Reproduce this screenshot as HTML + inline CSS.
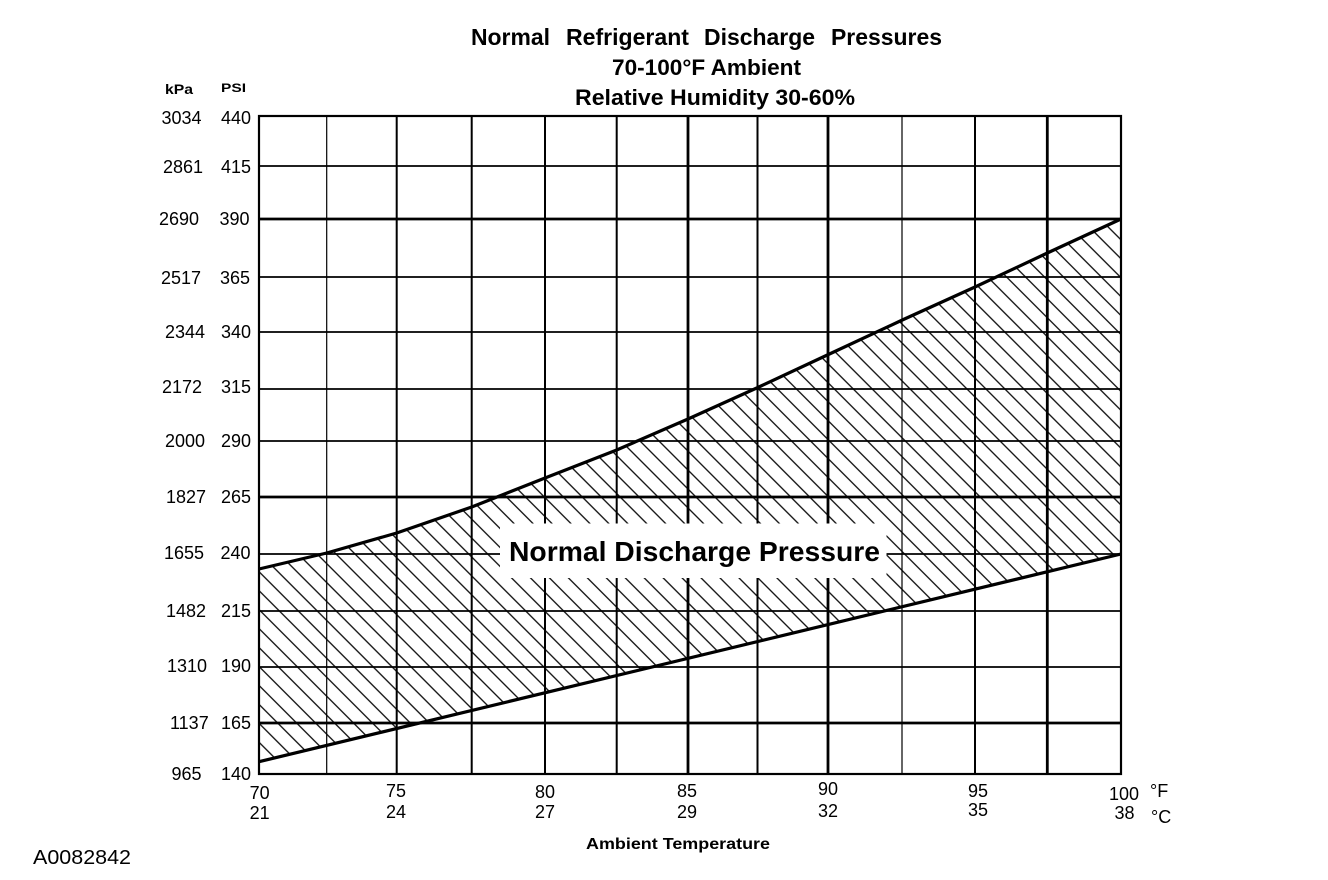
<!DOCTYPE html>
<html>
<head>
<meta charset="utf-8">
<style>
  html, body { margin: 0; padding: 0; background: #fff; }
  svg { display: block; }
  text { font-family: "Liberation Sans", Arial, sans-serif; fill: #000; }
  .b { font-weight: bold; }
</style>
</head>
<body>
<svg width="1328" height="880" viewBox="0 0 1328 880" xmlns="http://www.w3.org/2000/svg">
  <defs>
    <pattern id="hatch" patternUnits="userSpaceOnUse" width="20" height="13.4" patternTransform="rotate(45)">
      <line x1="-2" y1="6.7" x2="22" y2="6.7" stroke="#000" stroke-width="1.2"/>
    </pattern>
  </defs>
  <rect x="0" y="0" width="1328" height="880" fill="#fff"/>

  <!-- Titles -->
  <text class="b" x="471" y="45" font-size="23" textLength="79" lengthAdjust="spacingAndGlyphs">Normal</text>
  <text class="b" x="566" y="45" font-size="23" textLength="123" lengthAdjust="spacingAndGlyphs">Refrigerant</text>
  <text class="b" x="704" y="45" font-size="23" textLength="111" lengthAdjust="spacingAndGlyphs">Discharge</text>
  <text class="b" x="831" y="45" font-size="23" textLength="111" lengthAdjust="spacingAndGlyphs">Pressures</text>
  <text class="b" x="612" y="75" font-size="22" textLength="189" lengthAdjust="spacingAndGlyphs">70-100°F Ambient</text>
  <text class="b" x="575" y="105" font-size="22" textLength="280" lengthAdjust="spacingAndGlyphs">Relative Humidity 30-60%</text>

  <!-- Axis unit labels -->
  <text class="b" x="165" y="94" font-size="14" textLength="28" lengthAdjust="spacingAndGlyphs">kPa</text>
  <text class="b" x="221" y="92" font-size="12" textLength="25" lengthAdjust="spacingAndGlyphs">PSI</text>

  <!-- Horizontal grid lines -->
  <g stroke="#000">
    <line x1="259" y1="166" x2="1121" y2="166" stroke-width="1.7"/>
    <line x1="259" y1="219" x2="1121" y2="219" stroke-width="2.7"/>
    <line x1="259" y1="277" x2="1121" y2="277" stroke-width="1.7"/>
    <line x1="259" y1="332" x2="1121" y2="332" stroke-width="1.7"/>
    <line x1="259" y1="389" x2="1121" y2="389" stroke-width="1.7"/>
    <line x1="259" y1="441" x2="1121" y2="441" stroke-width="1.7"/>
    <line x1="259" y1="497" x2="1121" y2="497" stroke-width="2.7"/>
    <line x1="259" y1="554" x2="1121" y2="554" stroke-width="1.7"/>
    <line x1="259" y1="611" x2="1121" y2="611" stroke-width="1.7"/>
    <line x1="259" y1="667" x2="1121" y2="667" stroke-width="1.7"/>
    <line x1="259" y1="723" x2="1121" y2="723" stroke-width="2.7"/>
  </g>
  <!-- Vertical grid lines -->
  <g stroke="#000">
    <line x1="326.7" y1="116" x2="326.7" y2="774" stroke-width="1.2"/>
    <line x1="396.7" y1="116" x2="396.7" y2="774" stroke-width="2"/>
    <line x1="471.7" y1="116" x2="471.7" y2="774" stroke-width="2"/>
    <line x1="545" y1="116" x2="545" y2="774" stroke-width="2"/>
    <line x1="616.7" y1="116" x2="616.7" y2="774" stroke-width="2"/>
    <line x1="688" y1="116" x2="688" y2="774" stroke-width="2.8"/>
    <line x1="757.5" y1="116" x2="757.5" y2="774" stroke-width="2"/>
    <line x1="828" y1="116" x2="828" y2="774" stroke-width="2.8"/>
    <line x1="902" y1="116" x2="902" y2="774" stroke-width="1.2"/>
    <line x1="975" y1="116" x2="975" y2="774" stroke-width="2"/>
    <line x1="1047.3" y1="116" x2="1047.3" y2="774" stroke-width="2.8"/>
  </g>
  <!-- Border -->
  <rect x="259" y="116" width="862" height="658" fill="none" stroke="#000" stroke-width="2.2"/>

  <!-- Hatched band -->
  <polygon points="259,569 326.7,553 396.7,533 471.7,507 545,478 616.7,450 688,419 756.7,388 827.3,355 902.3,320 975,287 1047.3,253 1121,219 1121,554 259,761.7" fill="url(#hatch)"/>

  <!-- Label box -->
  <rect x="500" y="523.5" width="386.5" height="54.5" fill="#fff"/>
  <text class="b" x="509" y="561" font-size="28" textLength="371" lengthAdjust="spacingAndGlyphs">Normal Discharge Pressure</text>

  <!-- Curves -->
  <polyline points="259,569 326.7,553 396.7,533 471.7,507 545,478 616.7,450 688,419 756.7,388 827.3,355 902.3,320 975,287 1047.3,253 1121,219" fill="none" stroke="#000" stroke-width="3.2" stroke-linejoin="round"/>
  <line x1="259" y1="761.7" x2="1121" y2="554" stroke="#000" stroke-width="3.2"/>

  <!-- Y tick labels: kPa -->
  <g font-size="18">
    <text x="161.5" y="124">3034</text>
    <text x="163" y="173">2861</text>
    <text x="159" y="225">2690</text>
    <text x="161" y="284">2517</text>
    <text x="165" y="338">2344</text>
    <text x="162" y="393">2172</text>
    <text x="165" y="447">2000</text>
    <text x="166" y="503">1827</text>
    <text x="164" y="559">1655</text>
    <text x="166" y="617">1482</text>
    <text x="167" y="672">1310</text>
    <text x="170" y="729">1137</text>
    <text x="171.5" y="780">965</text>
  </g>
  <!-- Y tick labels: PSI -->
  <g font-size="18">
    <text x="221" y="124">440</text>
    <text x="221" y="173">415</text>
    <text x="219.5" y="225">390</text>
    <text x="220" y="284">365</text>
    <text x="221" y="338">340</text>
    <text x="221" y="393">315</text>
    <text x="221" y="447">290</text>
    <text x="221" y="503">265</text>
    <text x="220.5" y="559">240</text>
    <text x="221" y="617">215</text>
    <text x="221" y="672">190</text>
    <text x="221" y="729">165</text>
    <text x="221" y="780">140</text>
  </g>

  <!-- X tick labels -->
  <g font-size="18" text-anchor="middle">
    <text x="259.7" y="799">70</text>
    <text x="259.7" y="819">21</text>
    <text x="396" y="797">75</text>
    <text x="396" y="818">24</text>
    <text x="545" y="798">80</text>
    <text x="545" y="818">27</text>
    <text x="687" y="797">85</text>
    <text x="687" y="818">29</text>
    <text x="828" y="795">90</text>
    <text x="828" y="817">32</text>
    <text x="978" y="797">95</text>
    <text x="978" y="816">35</text>
    <text x="1124" y="800">100</text>
    <text x="1124.5" y="819">38</text>
  </g>
  <text x="1150" y="797" font-size="18">°F</text>
  <text x="1151" y="823" font-size="18">°C</text>

  <!-- Axis title and figure id -->
  <text class="b" x="586" y="849" font-size="16" textLength="184" lengthAdjust="spacingAndGlyphs">Ambient Temperature</text>
  <text x="33" y="864" font-size="20" textLength="98" lengthAdjust="spacingAndGlyphs">A0082842</text>
</svg>
</body>
</html>
